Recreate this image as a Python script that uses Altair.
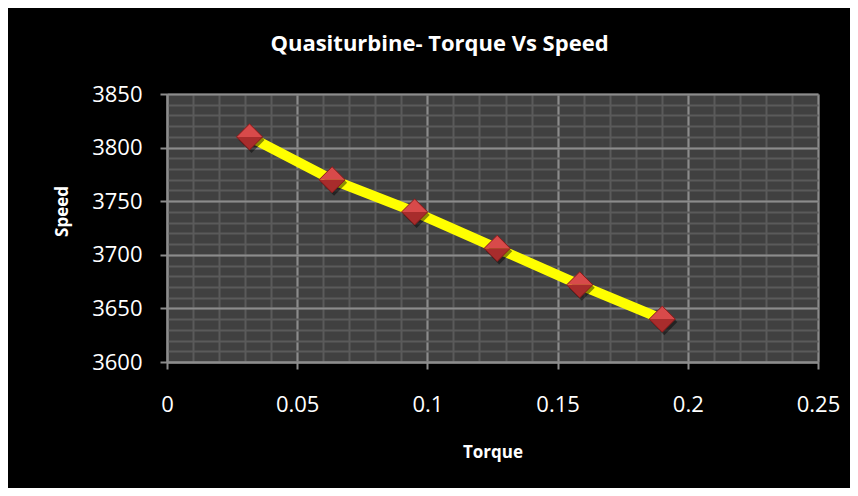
import altair as alt
import pandas as pd

# ---- data ----
torque = [0.0317, 0.0634, 0.0951, 0.1268, 0.1585, 0.1902]
speed = [3810, 3770, 3740, 3706, 3672, 3640]

x_major = [0, 0.05, 0.1, 0.15, 0.2, 0.25]
x_minor = [0, 0.01, 0.02, 0.03, 0.04, 0.05, 0.06, 0.07, 0.08, 0.09, 0.1,
           0.11, 0.12, 0.13, 0.14, 0.15, 0.16, 0.17, 0.18, 0.19, 0.2,
           0.21, 0.22, 0.23, 0.24, 0.25]
y_major = [3600, 3650, 3700, 3750, 3800, 3850]
y_minor = [3600, 3610, 3620, 3630, 3640, 3650, 3660, 3670, 3680, 3690, 3700,
           3710, 3720, 3730, 3740, 3750, 3760, 3770, 3780, 3790, 3800,
           3810, 3820, 3830, 3840, 3850]

df = pd.DataFrame({"Torque": torque, "Speed": speed})

FONT = "Open Sans"
MAJOR = "#8c8c8c"
MINOR = "#5a5a5a"

xscale = alt.Scale(domain=[0, 0.25], nice=False, zero=False)
yscale = alt.Scale(domain=[3600, 3850], nice=False, zero=False)

base = alt.Chart(df)

# minor grid layer (carried by the yellow line)
line = base.mark_line(color="#ffff00", strokeWidth=10).encode(
    x=alt.X("Torque:Q", scale=xscale,
            axis=alt.Axis(orient="bottom", values=x_minor, grid=True, gridColor=MINOR,
                          gridWidth=2, labels=False, ticks=False, domain=False, title=None)),
    y=alt.Y("Speed:Q", scale=yscale,
            axis=alt.Axis(orient="left", values=y_minor, grid=True, gridColor=MINOR,
                          gridWidth=2, labels=False, ticks=False, domain=False, title=None)),
)

shadow = base.mark_point(shape="diamond", filled=True, size=680, color="black",
                         opacity=0.45, xOffset=2, yOffset=3).encode(
    x=alt.X("Torque:Q", scale=xscale, axis=None),
    y=alt.Y("Speed:Q", scale=yscale, axis=None),
)

bottom_half = base.mark_point(shape="M-1,0L0,1L1,0Z", filled=True, size=680,
                              color="#a82c2c", opacity=1).encode(
    x=alt.X("Torque:Q", scale=xscale, axis=None),
    y=alt.Y("Speed:Q", scale=yscale, axis=None),
)

# major grid + labelled axes (carried by the top half of the markers)
top_half = base.mark_point(shape="M-1,0L0,-1L1,0Z", filled=True, size=680,
                           color="#d84a4a", opacity=1).encode(
    x=alt.X("Torque:Q", scale=xscale,
            axis=alt.Axis(orient="bottom", values=x_major, format="~g", grid=True,
                          gridColor=MAJOR, gridWidth=2, domainColor=MAJOR, domainWidth=2,
                          tickColor=MAJOR, tickSize=7, tickWidth=2, labelColor="white",
                          labelFont=FONT, labelFontSize=22, labelPadding=25,
                          labelFlush=False, labelOverlap=False,
                          title="Torque", titleColor="white", titleFont=FONT,
                          titleFontSize=17, titleFontWeight="bold", titleY=82,
                          titleBaseline="top")),
    y=alt.Y("Speed:Q", scale=yscale,
            axis=alt.Axis(orient="left", values=y_major, format="d", grid=True,
                          gridColor=MAJOR, gridWidth=2, domainColor=MAJOR, domainWidth=2,
                          tickColor=MAJOR, tickSize=7, tickWidth=2, labelColor="white",
                          labelFont=FONT, labelFontSize=22, labelPadding=18,
                          labelFlush=False, labelOverlap=False,
                          title="Speed", titleColor="white", titleFont=FONT,
                          titleFontSize=17, titleFontWeight="bold", titleX=-105,
                          titleY=117, titleBaseline="middle", titleAngle=-90)),
)

outline = base.mark_point(shape="diamond", filled=False, size=680, color="#8a1a1a",
                          strokeWidth=1, opacity=1).encode(
    x=alt.X("Torque:Q", scale=xscale, axis=None),
    y=alt.Y("Speed:Q", scale=yscale, axis=None),
)

chart = alt.layer(line, shadow, bottom_half, top_half, outline).resolve_axis(
    x="independent", y="independent"
).properties(
    width=651,
    height=268,
    background="black",
    padding={"left": 159, "top": 86, "right": 32, "bottom": 126},
    autosize=alt.AutoSizeParams(type="none"),
    title=alt.TitleParams("Quasiturbine- Torque Vs Speed", color="white", font=FONT,
                          fontSize=22, fontWeight="bold", anchor="middle", dx=-53,
                          baseline="alphabetic", offset=10),
).configure_view(fill="#404040", stroke=None)

chart.save("out.html", embed_options={"renderer": "svg", "actions": False})
